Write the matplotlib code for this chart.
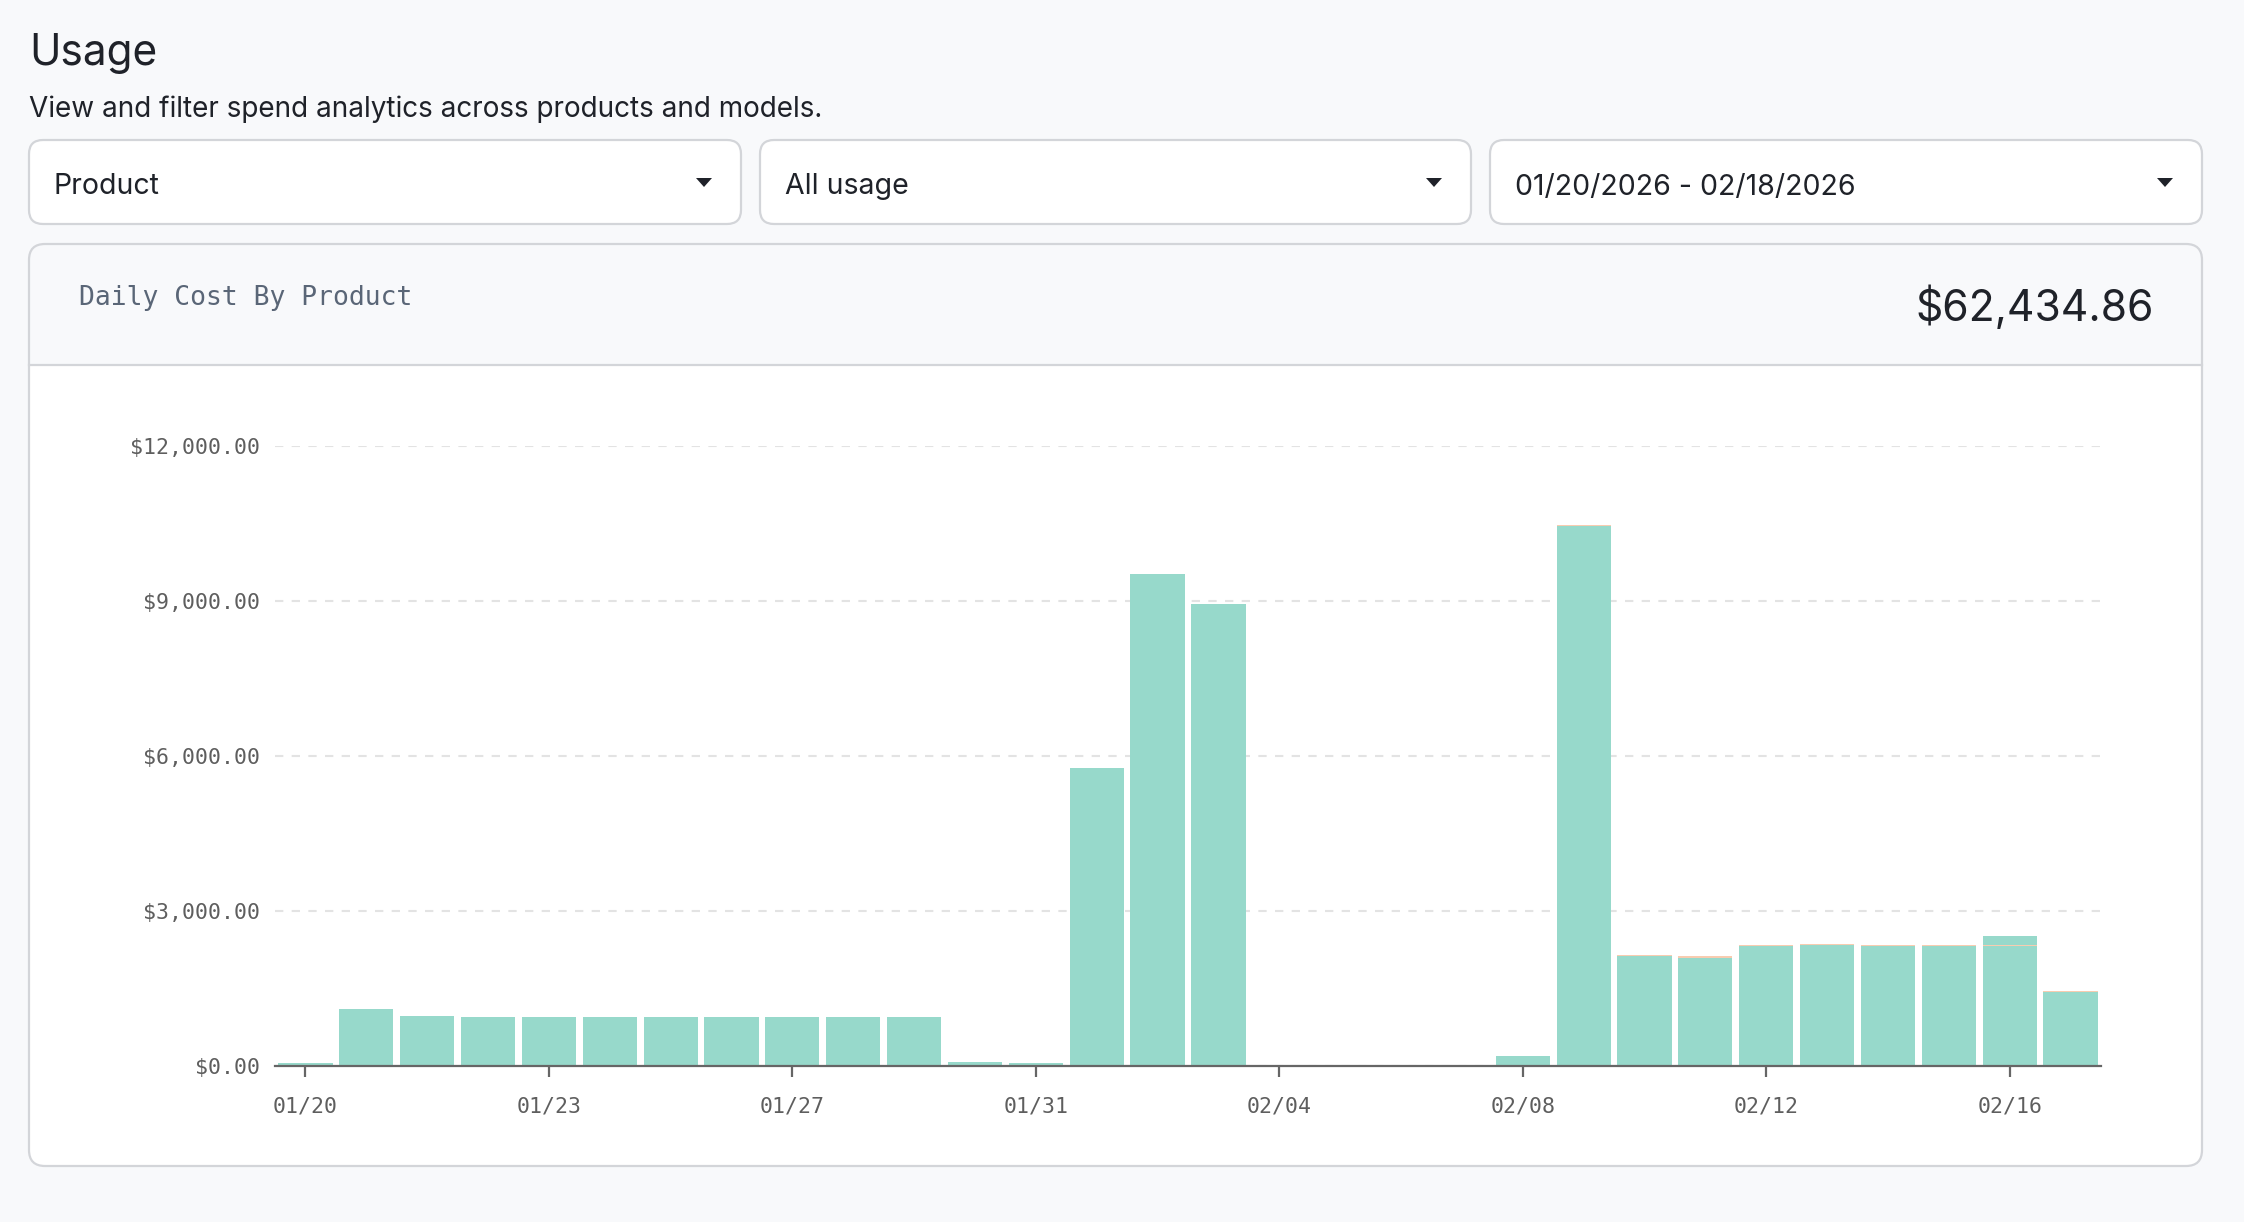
import matplotlib
matplotlib.use("Agg")
import matplotlib.pyplot as plt
from matplotlib.patches import FancyBboxPatch, Rectangle, Polygon
from matplotlib.ticker import FuncFormatter
import numpy as np

W, H = 2244, 1222

# daily cost, 01/20 .. 02/18
days = ['01/20', '01/21', '01/22', '01/23', '01/24', '01/25', '01/26', '01/27', '01/28', '01/29',
        '01/30', '01/31', '02/01', '02/02', '02/03', '02/04', '02/05', '02/06', '02/07', '02/08',
        '02/09', '02/10', '02/11', '02/12', '02/13', '02/14', '02/15', '02/16', '02/17', '02/18']
main_cost = [50, 1100, 967, 957, 957, 957, 957, 957, 957, 957,
             957, 87, 60, 5770, 9530, 8950, 4, 4, 3, 3,
             185, 10455, 2120, 2100, 2315, 2334, 2328, 2315, 2315, 1430]
other_cost = [0, 0, 0, 0, 0, 0, 0, 0, 0, 0,
              0, 0, 0, 0, 0, 0, 0, 2, 4, 4,
              18, 23, 22, 24, 22, 22, 22, 22, 22, 22]
extra_cost = [0] * 28 + [172, 0]

tick_pos = [0, 4, 8, 12, 16, 20, 24, 28]
tick_labels = ['01/20', '01/23', '01/27', '01/31', '02/04', '02/08', '02/12', '02/16']
y_ticks = [0, 3000, 6000, 9000, 12000]

total_label = '$62,434.86'
filters = ['Product', 'All usage', '01/20/2026 - 02/18/2026']

bg = '#f8f9fb'
teal = '#97d9cb'
orange = '#f8ccb0'
border = '#d3d5d9'
dark = '#1f2229'
sans = ['Inter', 'DejaVu Sans']
mono = ['DejaVu Sans Mono']

fig = plt.figure(figsize=(W / 100, H / 100), dpi=100, facecolor=bg)

# background layer in pixel coords
bgax = fig.add_axes([0, 0, 1, 1], zorder=0)
bgax.set_xlim(0, W)
bgax.set_ylim(H, 0)
bgax.axis('off')

bgax.text(29, 54, 'Usage', fontsize=30.5, color=dark, family=sans, va='center', ha='left')
bgax.text(29, 109, 'View and filter spend analytics across products and models.',
          fontsize=20.1, color=dark, family=sans, va='center', ha='left')

# dropdowns
boxes = [(29, 741), (760, 1471), (1490, 2202)]
for (x0, x1), lab in zip(boxes, filters):
    bgax.add_patch(FancyBboxPatch((x0, 140), x1 - x0, 84,
                                  boxstyle='round,pad=0,rounding_size=14',
                                  fc='white', ec=border, lw=1.6))
    bgax.text(x0 + 25, 187, lab, fontsize=20.5, color=dark, family=sans, va='center', ha='left')
    ax_ = x1 - 37
    bgax.add_patch(Polygon([[ax_ - 8, 178], [ax_ + 8, 178], [ax_, 187]], closed=True,
                           fc=dark, ec='none'))

# card
cx0, cx1, cy0, cy1 = 29, 2202, 244, 1166
bgax.add_patch(FancyBboxPatch((cx0, cy0), cx1 - cx0, cy1 - cy0,
                              boxstyle='round,pad=0,rounding_size=16', fc='white', ec='none'))
bgax.add_patch(FancyBboxPatch((cx0, cy0), cx1 - cx0, 160,
                              boxstyle='round,pad=0,rounding_size=16', fc=bg, ec='none'))
bgax.add_patch(Rectangle((cx0 + 1, 365), cx1 - cx0 - 2, 60, fc='white', ec='none'))
bgax.plot([cx0, cx1], [365, 365], color=border, lw=1.6)
bgax.add_patch(FancyBboxPatch((cx0, cy0), cx1 - cx0, cy1 - cy0,
                              boxstyle='round,pad=0,rounding_size=16', fc='none', ec=border, lw=1.6))
bgax.text(79, 298, 'Daily Cost By Product', fontsize=19, color='#5a6677', family=mono,
          va='center', ha='left')
bgax.text(2154, 308, total_label, fontsize=30.7, color=dark, family=sans, va='center', ha='right')

# chart
ax = fig.add_axes([275 / W, 1 - 1066 / H, (2101 - 275) / W, (1066 - 446) / H], zorder=1)
ax.patch.set_visible(False)
x = np.arange(len(days))
main_cost = np.array(main_cost)
other_cost = np.array(other_cost)
ax.bar(x, main_cost, width=0.89, color=teal, zorder=2)
ax.bar(x, other_cost, width=0.89, bottom=main_cost, color=orange, zorder=2)
ax.bar(x, extra_cost, width=0.89, bottom=main_cost + other_cost, color=teal, zorder=2)

ax.set_xlim(-0.5, len(days) - 0.5)
ax.set_ylim(0, 12000)
ax.set_yticks(y_ticks)
ax.yaxis.set_major_formatter(FuncFormatter(lambda v, p: '${:,.2f}'.format(v)))
ax.set_xticks(tick_pos)
ax.set_xticklabels(tick_labels)
ax.grid(axis='y', color='#e3e3e3', ls=(0, (4, 4)), lw=1.5, zorder=0)
for s in ['top', 'right', 'left']:
    ax.spines[s].set_visible(False)
ax.spines['bottom'].set_color('#666666')
ax.spines['bottom'].set_linewidth(1.6)
ax.spines['bottom'].set_zorder(3)
ax.tick_params(axis='y', length=0, pad=11, labelsize=15.5, labelcolor='#5e5e5e')
ax.tick_params(axis='x', length=8, width=1.6, color='#666666', pad=14,
               labelsize=15.5, labelcolor='#5e5e5e')
for t in ax.get_xticklabels() + ax.get_yticklabels():
    t.set_family(mono)

fig.savefig('out.png', dpi=100, facecolor=bg)
